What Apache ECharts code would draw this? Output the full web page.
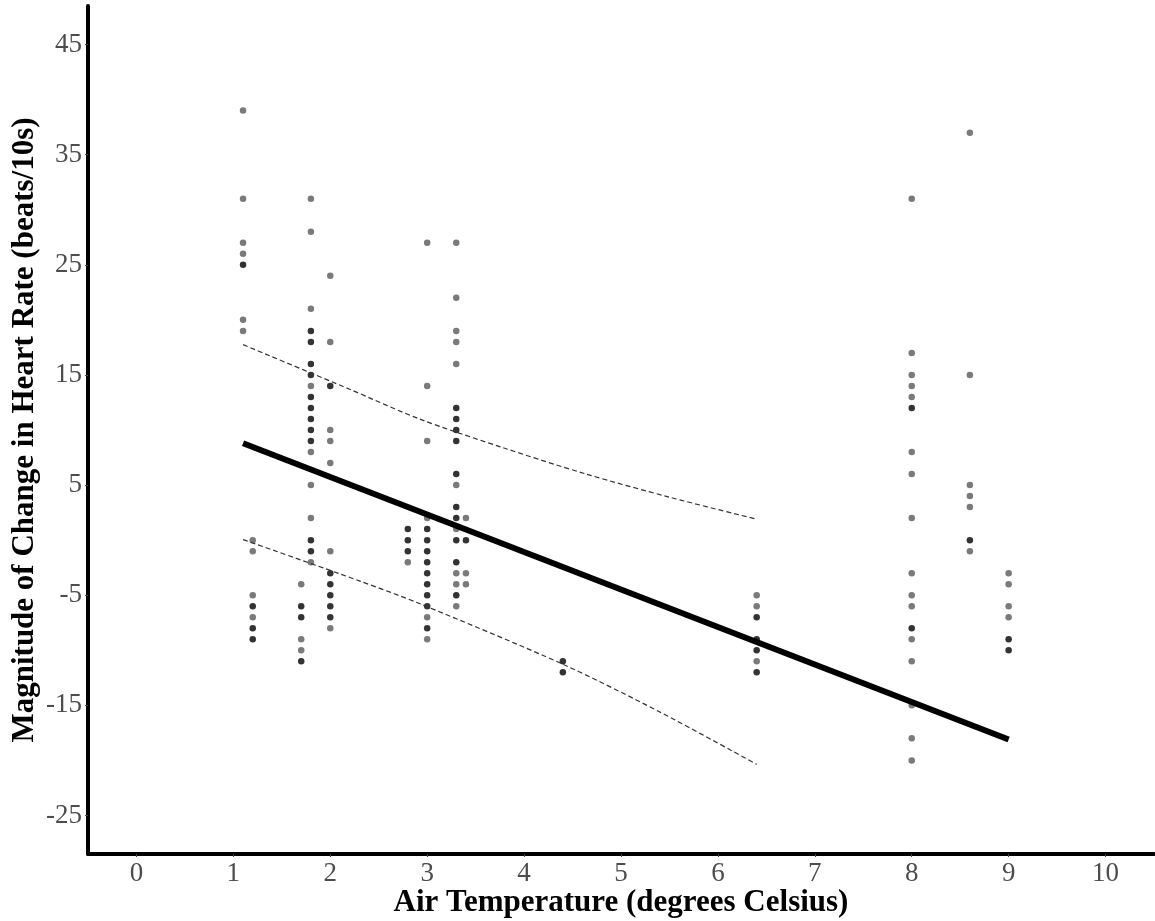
<!DOCTYPE html>
<html>
<head>
<meta charset="utf-8">
<script src="https://cdn.jsdelivr.net/npm/echarts@6/dist/echarts.min.js"></script>
<style>
html, body { margin: 0; padding: 0; background: #fff; }
#chart { width: 1155px; height: 921px; }
</style>
</head>
<body>
<div id="chart"></div>
<script>
// tick labels
const xTicks = [0, 1, 2, 3, 4, 5, 6, 7, 8, 9, 10];
const yTicks = [-25, -15, -5, 5, 15, 25, 35, 45];

// single observations (grey) as [temperature, change]
const greyPoints = [
	[1.1, 39], [1.1, 31], [1.1, 27], [1.1, 26], [1.1, 20], [1.1, 19],
	[1.2, 0], [1.2, -1], [1.2, -5], [1.2, -7],
	[1.7, -4], [1.7, -9], [1.7, -10],
	[1.8, 31], [1.8, 28], [1.8, 21], [1.8, 14], [1.8, 8], [1.8, 5], [1.8, 2], [1.8, -2],
	[2.0, 24], [2.0, 18], [2.0, 10], [2.0, 9], [2.0, 7], [2.0, -1], [2.0, -8],
	[2.8, -2],
	[3.0, 27], [3.0, 14], [3.0, 9], [3.0, 2], [3.0, -7], [3.0, -9],
	[3.3, 27], [3.3, 22], [3.3, 19], [3.3, 18], [3.3, 16], [3.3, 5], [3.3, 1], [3.3, -3], [3.3, -4], [3.3, -6],
	[3.4, 2], [3.4, -3], [3.4, -4],
	[6.4, -5], [6.4, -6], [6.4, -11],
	[8.0, 31], [8.0, 17], [8.0, 15], [8.0, 14], [8.0, 13], [8.0, 8], [8.0, 6], [8.0, 2],
	[8.0, -3], [8.0, -5], [8.0, -6], [8.0, -9], [8.0, -11], [8.0, -15], [8.0, -18], [8.0, -20],
	[8.6, 37], [8.6, 15], [8.6, 5], [8.6, 4], [8.6, 3], [8.6, -1],
	[9.0, -3], [9.0, -4], [9.0, -6], [9.0, -7]
];

// overlapping observations (dark)
const darkPoints = [
	[1.1, 25],
	[1.2, -6], [1.2, -8], [1.2, -9],
	[1.7, -6], [1.7, -7], [1.7, -11],
	[1.8, 19], [1.8, 18], [1.8, 16], [1.8, 15], [1.8, 13], [1.8, 12], [1.8, 11], [1.8, 10], [1.8, 9], [1.8, 0], [1.8, -1],
	[2.0, 14], [2.0, -3], [2.0, -4], [2.0, -5], [2.0, -6], [2.0, -7],
	[2.8, 1], [2.8, 0], [2.8, -1],
	[3.0, 1], [3.0, 0], [3.0, -1], [3.0, -2], [3.0, -3], [3.0, -4], [3.0, -5], [3.0, -6], [3.0, -8],
	[3.3, 12], [3.3, 11], [3.3, 10], [3.3, 9], [3.3, 6], [3.3, 3], [3.3, 2], [3.3, 0], [3.3, -2], [3.3, -5],
	[3.4, 0],
	[4.4, -11], [4.4, -12],
	[6.4, -7], [6.4, -9], [6.4, -10], [6.4, -12],
	[8.0, 12], [8.0, -8],
	[8.6, 0],
	[9.0, -9], [9.0, -10]
];

// fitted line and dashed bounds
const fitLine = [[1.1, 8.8], [9.0, -18.1]];
const upperBound = [[1.1, 17.75], [2.2, 13.7], [2.92, 11.0], [3.78, 8.4], [4.64, 6.0], [5.5, 3.9], [6.4, 1.9]];
const lowerBound = [[1.1, 0.05], [2.3, -3.7], [2.92, -5.76], [4.4, -11.27], [5.4, -15.6], [6.4, -20.36]];

const serif = "'Liberation Serif', 'Times New Roman', serif";

const chart = echarts.init(document.getElementById('chart'));

chart.setOption({
	animation: false,
	backgroundColor: '#fff',
	grid: {
		left: 88,
		right: 1,
		top: 6,
		bottom: 67,
		containLabel: false,
		outerBoundsMode: 'none',
	},
	xAxis: {
		type: 'value',
		min: -0.5,
		max: 10.5,
		name: 'Air Temperature (degrees Celsius)',
		nameLocation: 'middle',
		nameGap: 33,
		nameMoveOverlap: false,
		nameTextStyle: {
			fontFamily: serif,
			fontWeight: 'bold',
			fontSize: 31,
			color: '#000',
		},
		axisLine: { show: true, onZero: false, lineStyle: { color: '#000', width: 4 } },
		axisTick: {
			show: true,
			length: 3,
			customValues: xTicks,
			lineStyle: { color: '#444', width: 1 },
		},
		axisLabel: {
			customValues: xTicks,
			margin: 6,
			fontFamily: serif,
			fontSize: 27,
			color: '#4d4d4d',
		},
		splitLine: { show: false },
	},
	yAxis: {
		type: 'value',
		min: -28.5,
		max: 48.5,
		name: 'Magnitude of Change in Heart Rate (beats/10s)',
		nameLocation: 'middle',
		nameGap: 48,
		nameMoveOverlap: false,
		nameRotate: 90,
		nameTextStyle: {
			fontFamily: serif,
			fontWeight: 'bold',
			fontSize: 31,
			color: '#000',
		},
		axisLine: { show: true, onZero: false, lineStyle: { color: '#000', width: 4 } },
		axisTick: {
			show: true,
			length: 3,
			customValues: yTicks,
			lineStyle: { color: '#444', width: 1 },
		},
		axisLabel: {
			customValues: yTicks,
			margin: 6,
			fontFamily: serif,
			fontSize: 27,
			color: '#4d4d4d',
		},
		splitLine: { show: false },
	},
	series: [
		{
			type: 'scatter',
			data: greyPoints,
			symbolSize: 6.5,
			itemStyle: { color: '#595959' },
		},
		{
			type: 'scatter',
			data: darkPoints,
			symbolSize: 6.5,
			itemStyle: { color: '#000' },
		},
		{
			type: 'line',
			data: upperBound,
			smooth: 0.3,
			showSymbol: false,
			lineStyle: { color: '#333', width: 1.2, type: [5, 3] },
			z: 3,
		},
		{
			type: 'line',
			data: lowerBound,
			smooth: 0.3,
			showSymbol: false,
			lineStyle: { color: '#333', width: 1.2, type: [5, 3] },
			z: 3,
		},
		{
			type: 'line',
			data: fitLine,
			showSymbol: false,
			lineStyle: { color: '#000', width: 6 },
			z: 4,
		},
	],
});
</script>
</body>
</html>
